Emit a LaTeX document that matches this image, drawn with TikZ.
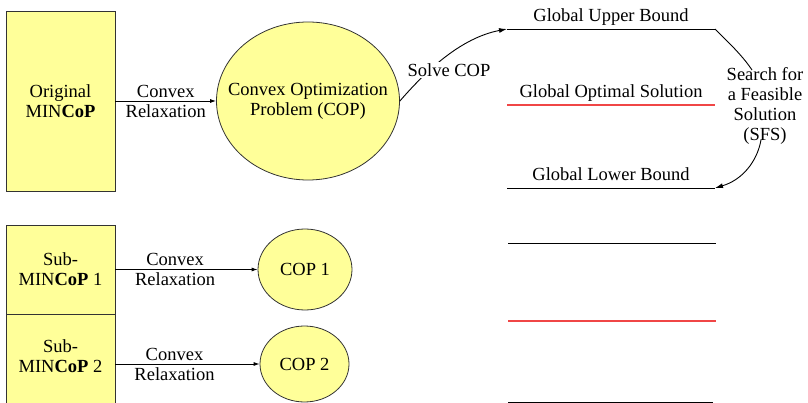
\documentclass[tikz,border=0pt]{standalone}
\usepackage{fontspec}
\setmainfont{Liberation Serif}
\usetikzlibrary{shapes.geometric,arrows.meta}
\definecolor{boxfill}{RGB}{255,255,153}
\definecolor{optred}{RGB}{240,70,70}
\begin{document}
\begin{tikzpicture}[x=1pt,y=-1pt,
  font=\fontsize{18.5}{20}\selectfont,
  box/.style={draw=black!80, fill=boxfill, line width=0.8pt,
    minimum width=109pt, inner sep=0pt, align=center},
  oval/.style={ellipse, draw=black!80, fill=boxfill, line width=0.8pt,
    inner sep=0pt},
  conn/.style={line width=0.9pt, -{Latex[length=6pt,width=4pt]}},
  curvearrow/.style={line width=0.9pt, -{Latex[length=8pt,width=5pt]}},
  lvl/.style={line width=0.9pt},
  optlvl/.style={line width=1.4pt, draw=optred},
  lbl/.style={align=center, inner sep=1pt},
  lvllbl/.style={above, inner sep=3pt, text depth=4pt}]
\useasboundingbox (0,0) rectangle (808,403);

% original problem and its convex relaxation
\node[box, minimum height=180pt] (orig) at (60.5,101) {Original\\MIN\textbf{CoP}};
\node[oval, minimum width=183pt, minimum height=158pt,
  label={[lbl]center:Convex Optimization\\Problem (COP)}] (cop) at (308,101) {};
\draw[conn] (orig.east) -- node[lbl] {Convex\\Relaxation} (cop.west);

% bound levels
\coordinate (ubL) at (507,29);  \coordinate (ubR) at (715,29);
\coordinate (optL) at (507,105); \coordinate (optR) at (715,105);
\coordinate (lbL) at (507,188);  \coordinate (lbR) at (715,188);
\draw[lvl] (ubL) -- node[lvllbl] {Global Upper Bound} (ubR);
\draw[optlvl] (optL) -- node[lvllbl, text=black] {Global Optimal Solution} (optR);
\draw[lvl] (lbL) -- node[lvllbl] {Global Lower Bound} (lbR);

% solving the relaxation gives the upper bound
\draw[curvearrow] (cop.east) .. controls (425,72) and (460,38) .. (ubL);
\node[lbl, fill=white] (solve) at (449,70) {Solve COP};

% feasible-solution search from upper to lower bound
\node[lbl] (sfs) at (765,106) {Search for\\a Feasible\\Solution\\(SFS)};
\coordinate (sfsTop) at (752,70);
\coordinate (sfsBot) at (761,140);
\draw[lvl] (ubR) .. controls (728,42) and (742,55) .. (sfsTop);
\draw[curvearrow] (sfsBot) .. controls (757,162) and (742,180) .. (lbR);

% sub-problems
\node[box, minimum height=89pt] (sub1) at (60.5,269.5) {Sub-\\MIN\textbf{CoP} 1};
\node[box, minimum height=92pt, anchor=north] (sub2) at (60.5,314) {};
\node[lbl, yshift=4pt] (sub2txt) at (sub2.center) {Sub-\\MIN\textbf{CoP} 2};
\node[oval, minimum width=94pt, minimum height=81pt,
  label={[lbl]center:COP 1}] (c1) at (305,269.5) {};
\node[oval, minimum width=89pt, minimum height=76pt,
  label={[lbl]center:COP 2}] (c2) at (304.5,364) {};
\draw[conn] (sub1.east) -- node[lbl, pos=0.42] {Convex\\Relaxation} (c1.west);
\draw[conn] (sub2.east |- c2.west) -- node[lbl, pos=0.41] {Convex\\Relaxation} (c2.west);

% levels after branching
\coordinate (b1L) at (508,243); \coordinate (b1R) at (716,243);
\coordinate (b2L) at (508,321); \coordinate (b2R) at (716,321);
\coordinate (b3L) at (508,402); \coordinate (b3R) at (713,402);
\draw[lvl] (b1L) -- (b1R);
\draw[optlvl] (b2L) -- (b2R);
\draw[lvl] (b3L) -- (b3R);
\end{tikzpicture}
\end{document}
